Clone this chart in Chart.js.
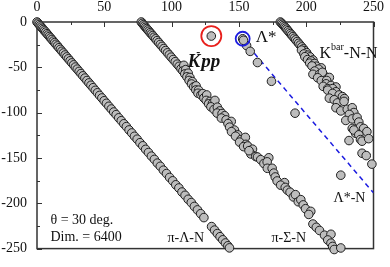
<!DOCTYPE html>
<html>
<head>
<meta charset="utf-8">
<script src="https://cdn.jsdelivr.net/npm/chart.js@4.4.0/dist/chart.umd.min.js"></script>
<style>
  html, body { margin: 0; padding: 0; background: #fff; }
</style>
</head>
<body>
<canvas id="spectrum" width="390" height="267"></canvas>
<script>
// tick labels
const xTickLabels = [0, 50, 100, 150, 200, 250];
const yTickLabels = [0, -50, -100, -150, -200, -250];

// eigenvalues: [Re E, Im E]
const piLambdaN = [
  [0,0],[0.8,-1.3],[1.6,-2.8],[2.4,-4.2],[3.2,-5.6],[4,-7],[4.8,-8.3],[5.6,-9.8],[6.5,-11.2],[7.4,-12.9],
  [8.3,-14.4],[9.2,-16],[10.1,-17.6],[11.1,-19.3],[12.1,-21.1],[13.1,-22.8],[14.1,-24.6],[15.2,-26.4],
  [16.3,-28.4],[17.4,-30.2],[18.5,-32.3],[19.7,-34.2],[20.9,-36.4],[22.1,-38.5],[23.3,-40.6],[24.6,-42.8],
  [25.9,-45.1],[27.2,-47.3],[28.5,-49.7],[29.9,-52],[31.3,-54.5],[32.7,-56.9],[34.1,-59.4],[35.6,-61.9],
  [37.1,-64.6],[38.6,-67.2],[40.1,-69.8],[41.7,-72.5],[43.3,-75.4],[44.9,-78.1],[46.5,-81],[48.2,-83.8],
  [49.9,-86.9],[51.6,-89.7],[53.4,-93],[55.2,-96],[57,-99.3],[58.8,-102.2],[60.7,-105.7],[62.6,-108.9],
  [64.5,-112.3],[66.4,-115.4],[68.4,-119.1],[70.4,-122.4],[72.4,-126.1],[74.4,-129.3],[76.5,-133.2],
  [78.6,-136.6],[80.7,-140.5],[82.8,-144],[85,-148],[87.2,-151.6],[89.4,-155.7],[91.6,-159.2],[93.9,-163.5],
  [96.2,-167.2],[98.5,-171.5],[100.8,-175.2],[103.1,-179.6],[105.4,-183.1],[107.7,-187.6],[110,-191.2],
  [112.3,-195.6],[114.6,-199.2],[116.9,-203.5],[119.2,-207.3],[121.6,-211.5],[124,-215.8],[129.7,-225.7],
  [131.9,-229.6],[134,-233.4],[136,-236.9],[138,-240.3],[140,-243.8],[141.8,-246.9],[143,-249.2]
];

const piSigmaN = [
  [77.5,0],[78.3,-1.5],[79.1,-3],[79.9,-4.4],[80.7,-5.9],[81.5,-7.3],[82.3,-8.7],[83.2,-10.2],[84.1,-11.8],
  [85,-13.3],[86,-15],[87,-16.8],[88.1,-18.6],[89.2,-20.6],[90.4,-22.6],[91.6,-24.8],[92.9,-26.9],
  [94.2,-29.3],[95.5,-31.5],[96.9,-34],[98.3,-36.3],[99.7,-38.8],[101.2,-41.4],[102.7,-43.8],[104.2,-46.5],
  [105.6,-48.9],[107,-51.6],[109.1,-47.8],[108.4,-54],[110.5,-52.5],[109.8,-57.3],[112.3,-56.5],[111.4,-60.5],
  [113.6,-61.2],[113,-64.5],[115.4,-65.8],[114.8,-68.4],[116.4,-71.6],[118.2,-70.5],[118,-75],[120,-75.2],
  [119.6,-78.6],[121.8,-80.3],[123.2,-79],[124,-83.8],[126.1,-80.5],[125.7,-86.5],[128.5,-87.6],[127.5,-90.3],
  [130.3,-90],[132.2,-86.5],[129.2,-93.6],[131.5,-96.5],[134,-94],[135.8,-98.1],[133.8,-100.5],[137.5,-101],
  [139.4,-103.4],[137,-106],[140.5,-108],[144.3,-109.7],[141.9,-112.1],[143.1,-116],[146.7,-119.2],
  [144.5,-121],[149.2,-124.5],[147.5,-126],[151.6,-129.7],[154.8,-127.3],[150.5,-132.5],[155.2,-135],
  [153.5,-137.5],[156.5,-136.8],[160.1,-140.3],[158.9,-145.6],[157.5,-142],[162.5,-148.4],[163.8,-149],
  [166.2,-151.9],[172.2,-149.8],[168.6,-156.1],[171,-154.3],[171.1,-161.4],[174.7,-161.4],[175.9,-166.7],
  [177,-171],[178.4,-175.4],[183.9,-177.2],[181,-180],[184.4,-182.5],[186,-185.5],[188,-187.8],[190.5,-193],
  [192,-190.5],[194.1,-198.3],[196,-196],[197.8,-201.8],[199.5,-206],[203.4,-208.9],[201.9,-212.3],
  [205,-222.9],[207.5,-226.5],[209.9,-230],[213.6,-235.2],[218.4,-234.2],[216,-240.5],[218.4,-244],
  [219.6,-247.6],[220.8,-251],[225.7,-249.3]
];

const kbarNN = [
  [180.8,0],[181.6,-1.2],[182.4,-2.5],[183.2,-3.8],[184,-5.2],[184.8,-6.6],[185.6,-8],[186.5,-9.6],
  [187.4,-11.2],[188.3,-12.8],[189.2,-14.4],[190.2,-16.1],[191.2,-17.9],[192.2,-19.7],[193.3,-21.6],
  [194.4,-23.5],[195.5,-25.5],[196.7,-27.5],[197.9,-29.6],[199,-31.7],[196.5,-31],[200.3,-33.8],[198.3,-35.3],
  [201.4,-36.6],[202.8,-38.5],[199,-38.3],[205,-41.9],[201,-41.5],[203.5,-43],[202.6,-45.4],[206.2,-45.8],
  [207.5,-48.8],[204.3,-48.5],[211.2,-50.6],[209.2,-52],[206.3,-54.1],[205,-57.7],[209.9,-57.7],[213.6,-59.4],
  [212,-55.5],[217.2,-61.2],[208.5,-61.5],[211.2,-64.7],[215.2,-64.5],[214.8,-68.2],[218.4,-70],[222.1,-71.7],
  [212.6,-71],[216,-73.5],[219.6,-73.5],[216,-75.2],[222.1,-77],[219.6,-78.8],[224.5,-80.5],[226.9,-82.3],
  [228.4,-84.5],[217.2,-84],[220.8,-85.8],[223.2,-89.3],[228.1,-87.6],[222.1,-94.6],[225.7,-98.1],
  [230.5,-96.3],[234.2,-94.6],[235.4,-99.9],[232,-102],[229.4,-108.6],[234.2,-106.9],[237.8,-105.2],
  [239.1,-110.4],[240.3,-115.7],[234.2,-117.4],[236.7,-122.7],[242.7,-117.4],[245.1,-121],[235.4,-119.2],
  [239.1,-124.5],[231.8,-130.8],[240.3,-129.7],[241.5,-131.5],[246.4,-128.7],[241.5,-144.8],[244.6,-147.4],
  [248.8,-156.8]
];

const lambdaStarN = [[155.7,-26],[158.4,-32.4],[163.8,-44.7],[174.2,-65.4],[191.7,-100.6],[225.7,-169]];
const lambdaStar = [[152.8,-18.5],[153.4,-20.2]];
const kpp = [[129.5,-15.5]];
const lambdaStarLine = [[152.8,-19.5],[250,-188.5]];

const toXY = arr => arr.map(p => ({ x: p[0], y: p[1] }));
const serif = '"Liberation Serif", "Times New Roman", serif';

const dot = {
  showLine: false,
  pointRadius: 4.3,
  pointBackgroundColor: '#bdbdbd',
  pointBorderColor: '#1e1e1e',
  pointBorderWidth: 1,
  clip: false
};

// box + inward ticks
const frame = {
  id: 'frame',
  beforeDatasetsDraw(chart) {
    const { ctx, chartArea: a, scales: { x, y } } = chart;
    ctx.save();
    ctx.strokeStyle = '#333';
    ctx.lineWidth = 1.5;
    ctx.strokeRect(a.left, a.top, a.right - a.left, a.bottom - a.top);
    ctx.lineWidth = 1;
    ctx.beginPath();
    x.ticks.forEach(t => {
      const px = Math.round(x.getPixelForValue(t.value)) + 0.5;
      const len = xTickLabels.includes(t.value) ? 5 : 3;
      ctx.moveTo(px, a.top); ctx.lineTo(px, a.top + len);
    });
    y.ticks.forEach(t => {
      const py = Math.round(y.getPixelForValue(t.value)) + 0.5;
      const len = yTickLabels.includes(t.value) ? 5 : 3;
      ctx.moveTo(a.left, py); ctx.lineTo(a.left + len, py);
    });
    ctx.stroke();
    ctx.restore();
  }
};

// text labels, each a list of [text, font, dx, dy] pieces drawn left to right
const labelList = [
  { at: [111.9, -50.1], parts: [['K', 'italic bold 19px', 0, 0], ['-', 'bold 12px', -4, -11], ['pp', 'italic bold 19px', 1, 0]] },
  { at: [162.5, -22.5], parts: [['\u039B*', '17px', 0, 0]] },
  { at: [209.9, -40], parts: [['K', '16px', 0, 0], ['bar', '10px', 0, -8], ['-N-N', '16px', 0, 0]] },
  { at: [220.3, -198.3], parts: [['\u039B*-N', '14px', 0, 0]] },
  { at: [174.2, -242.3], parts: [['\u03C0-\u03A3-N', '14px', 0, 0]] },
  { at: [96.9, -242.3], parts: [['\u03C0-\u039B-N', '14px', 0, 0]] },
  { at: [10, -222.6], parts: [['\u03B8 = 30 deg.', '14px', 0, 0]] },
  { at: [10, -241.2], parts: [['Dim. = 6400', '14px', 0, 0]] }
];

const texts = {
  id: 'texts',
  afterDatasetsDraw(chart) {
    const { ctx, scales: { x, y } } = chart;
    ctx.save();
    ctx.fillStyle = '#111';
    ctx.textBaseline = 'alphabetic';
    ctx.textAlign = 'left';
    labelList.forEach(l => {
      let px = x.getPixelForValue(l.at[0]);
      const py = y.getPixelForValue(l.at[1]);
      l.parts.forEach(([t, f, dx, dy]) => {
        ctx.font = f + ' ' + serif;
        px += dx;
        ctx.fillText(t, px, py + dy);
        px += ctx.measureText(t).width;
      });
    });
    ctx.restore();
  }
};

new Chart(document.getElementById('spectrum'), {
  type: 'scatter',
  data: {
    datasets: [
      { data: toXY(kpp), showLine: false, pointRadius: 10, pointBackgroundColor: 'rgba(0,0,0,0)',
        pointBorderColor: '#e8201c', pointBorderWidth: 1.8, clip: false },
      { data: toXY(lambdaStar).slice(0, 1), showLine: false, pointRadius: 7, pointBackgroundColor: 'rgba(0,0,0,0)',
        pointBorderColor: '#1c1ce0', pointBorderWidth: 1.8, clip: false },
      { data: toXY(kpp), ...dot },
      { data: toXY(lambdaStar), ...dot },
      { data: toXY(lambdaStarN), ...dot },
      { data: toXY(lambdaStarLine), showLine: true, pointRadius: 0, borderColor: '#1c1ce0',
        borderWidth: 1.5, borderDash: [5, 4] },
      { data: toXY(kbarNN), ...dot },
      { data: toXY(piSigmaN), ...dot },
      { data: toXY(piLambdaN), ...dot }
    ]
  },
  options: {
    responsive: false,
    animation: false,
    events: [],
    layout: { padding: { left: 0, top: 0, right: 10, bottom: 7 } },
    plugins: { legend: { display: false }, tooltip: { enabled: false } },
    scales: {
      x: {
        type: 'linear', position: 'top', min: 0, max: 250,
        grid: { display: false, drawTicks: false }, border: { display: false },
        ticks: {
          stepSize: 25, autoSkip: false, maxRotation: 0, padding: 6, color: '#111',
          font: { family: serif, size: 14 },
          callback: v => xTickLabels.includes(v) ? v : ''
        },
        afterFit: s => { s.height = 22; }
      },
      y: {
        type: 'linear', min: -250, max: 0,
        grid: { display: false, drawTicks: false }, border: { display: false },
        ticks: {
          stepSize: 25, autoSkip: false, padding: 10, color: '#111',
          font: { family: serif, size: 14 },
          callback: v => yTickLabels.includes(v) ? v : ''
        },
        afterFit: s => { s.width = 37; }
      }
    }
  },
  plugins: [frame, texts]
});
</script>
</body>
</html>
